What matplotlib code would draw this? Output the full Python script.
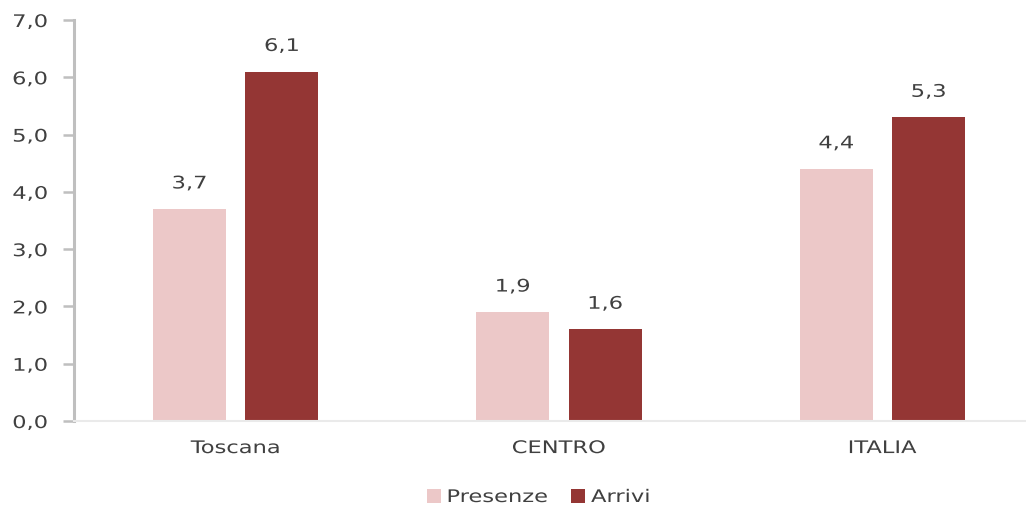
import matplotlib
matplotlib.use("Agg")
import matplotlib.pyplot as plt
import numpy as np
from matplotlib.ticker import FuncFormatter
from matplotlib.patheffects import AbstractPathEffect
from matplotlib.transforms import Affine2D

categories = ["Toscana", "CENTRO", "ITALIA"]
presenze = [3.7, 1.9, 4.4]
arrivi = [6.1, 1.6, 5.3]
series_names = ["Presenze", "Arrivi"]

col_pres = "#ECC8C8"
col_arr = "#943634"
txt_col = "#404040"
FS = 12.5
SX = 1.3


class Widen(AbstractPathEffect):
    """Stretch a text path horizontally around its left, centre or right edge."""

    def __init__(self, sx, anchor="center"):
        super().__init__()
        self.sx = sx
        self.anchor = anchor

    def draw_path(self, renderer, gc, tpath, affine, rgbFace=None):
        ext = tpath.get_extents()
        if self.anchor == "left":
            x0 = ext.x0
        elif self.anchor == "right":
            x0 = ext.x1
        else:
            x0 = 0.5 * (ext.x0 + ext.x1)
        t = Affine2D().translate(-x0, 0).scale(self.sx, 1).translate(x0, 0) + affine
        renderer.draw_path(gc, tpath, t, rgbFace)


W, H = 1026, 511
fig = plt.figure(figsize=(W / 100, H / 100), dpi=100)
ax = fig.add_axes([74 / W, (511 - 421) / H, (W - 74) / W, (421 - 20) / H])

x = np.arange(len(categories))
bw = 0.226
off = 0.143
b1 = ax.bar(x - off, presenze, bw, color=col_pres, label=series_names[0], zorder=2)
b2 = ax.bar(x + off, arrivi, bw, color=col_arr, label=series_names[1], zorder=2)

fmt = lambda v: f"{v:.1f}".replace(".", ",")
for bars, vals in ((b1, presenze), (b2, arrivi)):
    for r, v in zip(bars, vals):
        ax.text(r.get_x() + r.get_width() / 2, v + 0.29, fmt(v), ha="center",
                va="bottom", fontsize=FS, color=txt_col,
                path_effects=[Widen(SX, "center")])

ax.set_ylim(0, 7)
ax.set_xlim(-0.5, 2.5 - 18 / 323)
ax.set_yticks(np.arange(0, 8, 1))
ax.yaxis.set_major_formatter(FuncFormatter(lambda v, p: fmt(v)))
ax.set_xticks(x)
ax.set_xticklabels(categories)

for s in ("top", "right"):
    ax.spines[s].set_visible(False)
ax.spines["left"].set_color("#BFBFBF")
ax.spines["left"].set_linewidth(2.2)
ax.spines["bottom"].set_color("#EAEAEA")
ax.spines["bottom"].set_linewidth(1.5)
ax.tick_params(axis="y", colors="#BFBFBF", length=8, width=1.8, labelcolor=txt_col,
               labelsize=FS, pad=11)
ax.tick_params(axis="x", length=0, labelcolor=txt_col, labelsize=FS, pad=13)

for lbl in ax.get_yticklabels():
    lbl.set_path_effects([Widen(SX, "right")])
for lbl in ax.get_xticklabels():
    lbl.set_path_effects([Widen(SX, "center")])

leg = fig.legend(handles=[b1, b2], labels=series_names, loc="center left", ncol=2,
                 bbox_to_anchor=(427 / W, 1 - 497 / H), frameon=False, fontsize=FS,
                 handlelength=0.8, handleheight=0.8, handletextpad=0.35,
                 columnspacing=2.6, borderpad=0, borderaxespad=0,
                 labelcolor=txt_col)
for t in leg.get_texts():
    t.set_path_effects([Widen(SX, "left")])

fig.savefig("out.png", dpi=100)
